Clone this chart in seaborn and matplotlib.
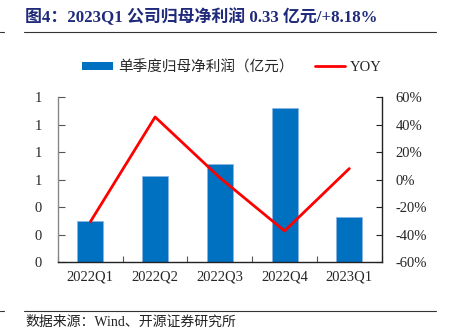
import matplotlib
matplotlib.use("Agg")
import matplotlib.pyplot as plt
import seaborn as sns
import numpy as np
import pandas as pd
from matplotlib.ticker import FuncFormatter, MultipleLocator
from matplotlib.lines import Line2D
from matplotlib.patches import Patch

quarters = ["2022Q1", "2022Q2", "2022Q3", "2022Q4", "2023Q1"]
profit = [0.30, 0.625, 0.717, 1.124, 0.327]
yoy = [-30.5, 45.7, 1.5, -37.2, 8.18]

title = "图4：2023Q1 公司归母净利润 0.33 亿元/+8.18%"
bar_label = "单季度归母净利润（亿元）"
line_label = "YOY"
source = "数据来源：Wind、开源证券研究所"

sns.set_theme(style="white")
FAM = ["Liberation Serif", "Noto Sans CJK SC", "DejaVu Sans"]
plt.rcParams["font.family"] = FAM

df = pd.DataFrame({"q": quarters, "profit": profit, "yoy": yoy})

fig = plt.figure(figsize=(4.49, 3.31), dpi=100)
ax = fig.add_axes([58/449, 1-262.3/331, (381.7-58)/449, (262.3-97.3)/331])

sns.barplot(data=df, x="q", y="profit", ax=ax, color="#0070C0", width=0.4,
            saturation=1, edgecolor="#8DB4E2", linewidth=0.5)
ax.set_xlim(-0.5, 4.5)
ax.set_ylim(0, 1.2)
ax.yaxis.set_major_locator(MultipleLocator(0.2))
ax.yaxis.set_major_formatter(FuncFormatter(lambda v, p: f"{v:.0f}"))
ax.set_xlabel("")
ax.set_ylabel("")

ax2 = ax.twinx()
sns.lineplot(data=df, x="q", y="yoy", ax=ax2, color="#FF0000", linewidth=2, sort=False)
ax2.set_ylim(-60, 60)
ax2.yaxis.set_major_locator(MultipleLocator(20))
ax2.yaxis.set_major_formatter(FuncFormatter(lambda v, p: f"{v:.0f}%"))
ax2.set_ylabel("")
ax2.set_xlim(-0.5, 4.5)

for a in (ax, ax2):
    a.spines["top"].set_visible(False)
ax.spines["right"].set_visible(False)
ax2.spines["left"].set_visible(False)
ax2.spines["bottom"].set_visible(False)
ax.spines["left"].set_color("#888888")
ax.spines["left"].set_linewidth(1.0)
ax.spines["bottom"].set_color("#222222")
ax.spines["bottom"].set_linewidth(1.0)
ax2.spines["right"].set_color("#222222")
ax2.spines["right"].set_linewidth(1.0)

ax.tick_params(axis="y", direction="in", length=5, width=0.8, color="#555555",
               labelsize=10.5, left=True)
ax.tick_params(axis="x", length=0, labelsize=10.5, pad=6)
ax2.tick_params(axis="y", direction="in", length=4, width=0.8, color="#222222",
                labelsize=10.5, pad=10, right=True)
ax.set_xticks(np.arange(-0.5, 5.0, 1.0), minor=True)
ax.tick_params(axis="x", which="minor", direction="in", length=4, width=0.8, color="#555555", bottom=True)
for lab in ax.get_yticklabels():
    lab.set_horizontalalignment("center")
ax.yaxis.set_tick_params(pad=14)

handles = [Patch(facecolor="#0070C0", edgecolor="none"),
           Line2D([0], [0], color="#FF0000", linewidth=2)]
fig.legend(handles, [bar_label, line_label], loc="center", bbox_to_anchor=(0.517, 1-67/331),
           ncol=2, frameon=False, fontsize=10.5, handlelength=2.1, handleheight=0.55,
           columnspacing=1.45, handletextpad=0.35)

fig.text(25/449, 1-17/331, title, fontsize=12.2, fontweight="bold", color="#1F2A7A",
         va="center", ha="left", family=FAM)
for yy in (32.3, 311):
    fig.add_artist(Line2D([24/449, 436/449], [1-yy/331, 1-yy/331], color="#333333", linewidth=0.8))
    fig.add_artist(Line2D([0, 4/449], [1-yy/331, 1-yy/331], color="#333333", linewidth=0.8))
fig.text(25/449, 1-322/331, source, fontsize=10, color="#222222", va="center", ha="left", family=FAM)

fig.savefig("out.png", dpi=100)
